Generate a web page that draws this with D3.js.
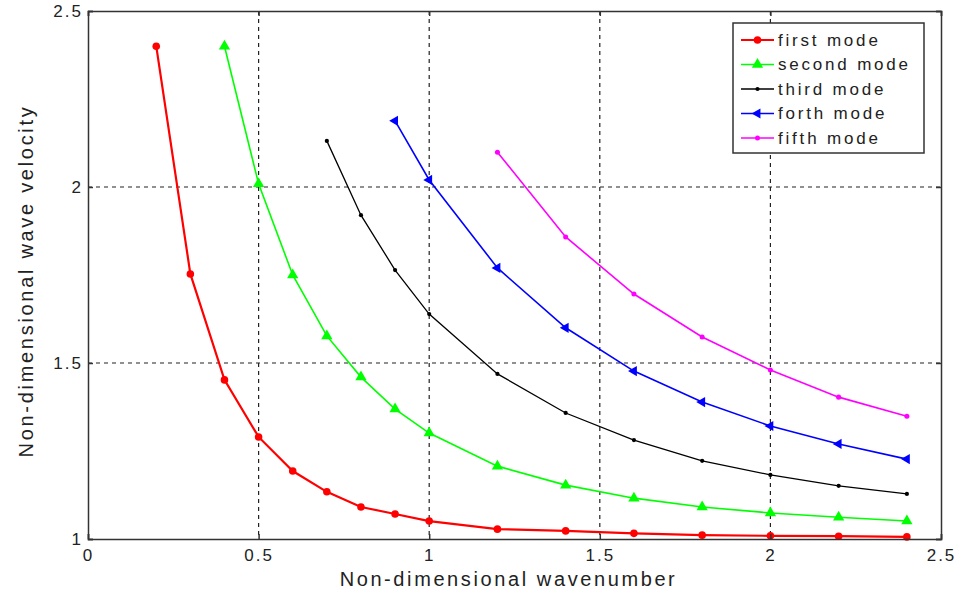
<!DOCTYPE html>
<html>
<head>
<meta charset="utf-8">
<script src="https://cdn.jsdelivr.net/npm/d3@7"></script>
<style>
  body { margin: 0; background: #fff; }
  svg { font-family: "Liberation Sans", Arial, sans-serif; }
  .grid line { stroke: #222; stroke-dasharray: 4 4; stroke-width: 1.2; }
  .axis text { font-size: 17px; fill: #222; letter-spacing: 2px; font-family: "Liberation Sans", Arial, sans-serif; }
  .axis path, .axis line { stroke: #333; stroke-width: 1.5; }
</style>
</head>
<body>
<svg width="963" height="600" viewBox="0 0 963 600"></svg>
<script>
// wavenumber values for each mode
const kFirst = [0.2, 0.3, 0.4, 0.5, 0.6, 0.7, 0.8, 0.9, 1.0, 1.2, 1.4, 1.6, 1.8, 2.0, 2.2, 2.4];
const vFirst = [2.40, 1.753, 1.452, 1.29, 1.193, 1.134, 1.091, 1.071, 1.051, 1.028, 1.023, 1.016, 1.011, 1.009, 1.008, 1.006];

const kSecond = [0.4, 0.5, 0.6, 0.7, 0.8, 0.9, 1.0, 1.2, 1.4, 1.6, 1.8, 2.0, 2.2, 2.4];
const vSecond = [2.40, 2.009, 1.75, 1.577, 1.46, 1.369, 1.301, 1.207, 1.153, 1.116, 1.091, 1.074, 1.062, 1.051];

const kThird = [0.7, 0.8, 0.9, 1.0, 1.2, 1.4, 1.6, 1.8, 2.0, 2.2, 2.4];
const vThird = [2.131, 1.92, 1.764, 1.639, 1.469, 1.358, 1.281, 1.222, 1.182, 1.151, 1.128];

const kForth = [0.9, 1.0, 1.2, 1.4, 1.6, 1.8, 2.0, 2.2, 2.4];
const vForth = [2.188, 2.02, 1.77, 1.60, 1.477, 1.389, 1.321, 1.27, 1.227];

const kFifth = [1.2, 1.4, 1.6, 1.8, 2.0, 2.2, 2.4];
const vFifth = [2.099, 1.858, 1.696, 1.574, 1.48, 1.403, 1.349];

const xTicks = [0, 0.5, 1, 1.5, 2, 2.5];
const yTicks = [1, 1.5, 2, 2.5];

const series = [
  { name: "first mode", k: kFirst, v: vFirst, color: "#ff0000", width: 2.2, marker: "circle", size: 45 },
  { name: "second mode", k: kSecond, v: vSecond, color: "#00ff00", width: 1.6, marker: "up", size: 55 },
  { name: "third mode", k: kThird, v: vThird, color: "#000000", width: 1.3, marker: "circle", size: 14 },
  { name: "forth mode", k: kForth, v: vForth, color: "#0000ff", width: 1.6, marker: "left", size: 45 },
  { name: "fifth mode", k: kFifth, v: vFifth, color: "#ff00ff", width: 1.6, marker: "circle", size: 20 },
];

let svg = d3.select("svg");
let plot = { left: 88, right: 941, top: 11, bottom: 539 };

let xScale = d3.scaleLinear().domain([0, 2.5]).range([plot.left, plot.right]);
let yScale = d3.scaleLinear().domain([1, 2.5]).range([plot.bottom, plot.top]);

// dashed grid
let grid = svg.append("g").attr("class", "grid");
grid.selectAll(".vx")
  .data(xTicks.filter((d) => d > 0 && d < 2.5))
  .enter()
  .append("line")
  .attr("x1", (d) => xScale(d))
  .attr("x2", (d) => xScale(d))
  .attr("y1", plot.top)
  .attr("y2", plot.bottom);
grid.selectAll(".hy")
  .data(yTicks.filter((d) => d > 1 && d < 2.5))
  .enter()
  .append("line")
  .attr("x1", plot.left)
  .attr("x2", plot.right)
  .attr("y1", (d) => yScale(d))
  .attr("y2", (d) => yScale(d));

function markerPath(type, size) {
  if (type === "up" || type === "left") return d3.symbol().type(d3.symbolTriangle).size(size)();
  return d3.symbol().type(d3.symbolCircle).size(size)();
}

series.forEach((s) => {
  let pts = s.k.map((k, i) => ({ k: k, v: s.v[i] }));
  let line = d3.line()
    .x((d) => xScale(d.k))
    .y((d) => yScale(d.v));
  let g = svg.append("g");
  g.append("path")
    .datum(pts)
    .attr("d", line)
    .attr("fill", "none")
    .attr("stroke", s.color)
    .attr("stroke-width", s.width);
  g.selectAll("path.mk")
    .data(pts)
    .enter()
    .append("path")
    .attr("class", "mk")
    .attr("d", markerPath(s.marker, s.size))
    .attr("fill", s.color)
    .attr("transform", (d) =>
      `translate(${xScale(d.k)},${yScale(d.v)})` + (s.marker === "left" ? " rotate(-90)" : ""));
});

// axes box
let xAxis = svg.append("g")
  .attr("class", "axis")
  .attr("transform", `translate(0,${plot.bottom})`)
  .call(d3.axisBottom(xScale).tickValues(xTicks).tickSize(-5).tickPadding(10).tickFormat(d3.format("")));
let yAxis = svg.append("g")
  .attr("class", "axis")
  .attr("transform", `translate(${plot.left},0)`)
  .call(d3.axisLeft(yScale).tickValues(yTicks).tickSize(-5).tickPadding(5).tickFormat(d3.format("")));
svg.append("g")
  .attr("class", "axis")
  .attr("transform", `translate(0,${plot.top})`)
  .call(d3.axisTop(xScale).tickValues(xTicks).tickSize(-5).tickFormat(""));
svg.append("g")
  .attr("class", "axis")
  .attr("transform", `translate(${plot.right},0)`)
  .call(d3.axisRight(yScale).tickValues(yTicks).tickSize(-5).tickFormat(""));
yAxis.selectAll("text").attr("dy", "0.32em");

// axis labels
svg.append("text")
  .attr("x", (plot.left + plot.right) / 2 - 6)
  .attr("y", 586)
  .attr("text-anchor", "middle")
  .attr("font-size", 20)
  .attr("letter-spacing", 2.6)
  .attr("fill", "#222")
  .text("Non-dimensional wavenumber");
svg.append("text")
  .attr("transform", `translate(33,${(plot.top + plot.bottom) / 2 + 6}) rotate(-90)`)
  .attr("text-anchor", "middle")
  .attr("font-size", 20)
  .attr("letter-spacing", 2.7)
  .attr("fill", "#222")
  .text("Non-dimensional wave velocity");

// legend
let legend = svg.append("g").attr("transform", "translate(733,23)");
legend.append("rect")
  .attr("width", 191)
  .attr("height", 130)
  .attr("fill", "#fff")
  .attr("stroke", "#333")
  .attr("stroke-width", 1.5);
let items = legend.selectAll(".item")
  .data(series)
  .enter()
  .append("g")
  .attr("transform", (d, i) => `translate(0,${17 + i * 24.5})`);
items.append("line")
  .attr("x1", 8)
  .attr("x2", 41)
  .attr("stroke", (d) => d.color)
  .attr("stroke-width", (d) => d.width);
items.append("path")
  .attr("d", (d) => markerPath(d.marker, d.size))
  .attr("fill", (d) => d.color)
  .attr("transform", (d) => "translate(24.5,0)" + (d.marker === "left" ? " rotate(-90)" : ""));
items.append("text")
  .attr("x", 45)
  .attr("dy", "0.35em")
  .attr("font-size", 17)
  .attr("letter-spacing", 2.8)
  .attr("fill", "#222")
  .text((d) => d.name);
</script>
</body>
</html>
